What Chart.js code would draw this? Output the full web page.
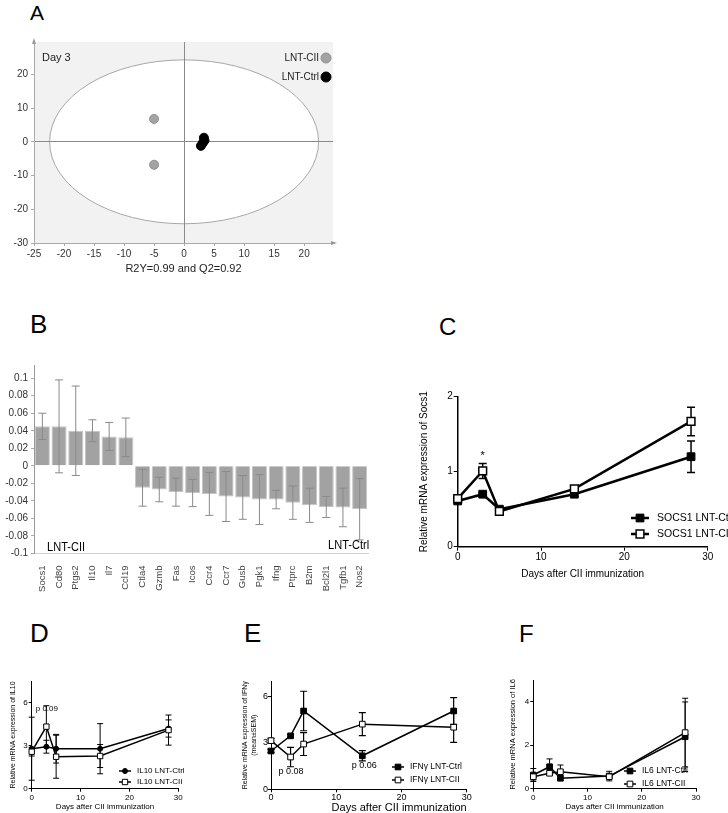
<!DOCTYPE html>
<html>
<head>
<meta charset="utf-8">
<script src="https://cdn.jsdelivr.net/npm/chart.js@4.4.1/dist/chart.umd.min.js"></script>
<style>
  html, body { margin: 0; padding: 0; background: #fff; width: 728px; height: 813px; overflow: hidden; }
  body { position: relative; font-family: 'Liberation Sans', Arial, sans-serif; color: #000; }
  canvas { position: absolute; }
  .letter { position: absolute; line-height: 1; }
  .note { position: absolute; white-space: nowrap; line-height: 14px; transform-origin: left center; }
</style>
</head>
<body>
<div class="letter" style="left:30px;top:2px;font-size:21px">A</div>
<div class="letter" style="left:30px;top:311px;font-size:26px">B</div>
<div class="letter" style="left:439px;top:315px;font-size:24px">C</div>
<div class="letter" style="left:30px;top:620px;font-size:26px">D</div>
<div class="letter" style="left:244px;top:620px;font-size:26px">E</div>
<div class="letter" style="left:519px;top:622px;font-size:24px">F</div>

<canvas id="cA" width="345" height="280" style="left:0;top:0"></canvas>
<canvas id="cB" width="380" height="265" style="left:0;top:340px"></canvas>
<canvas id="cC" width="314" height="204" style="left:414px;top:380px"></canvas>
<canvas id="cD" width="200" height="150" style="left:0;top:665px"></canvas>
<canvas id="cE" width="240" height="150" style="left:240px;top:665px"></canvas>
<canvas id="cF" width="248" height="150" style="left:480px;top:665px"></canvas>

<div class="note" style="left:42px;top:50px;font-size:11px;color:#222">Day 3</div>
<div class="note" style="left:47px;top:540px;font-size:13px;transform:scaleX(0.85)">LNT-CII</div>
<div class="note" style="left:328px;top:538px;font-size:13px;transform:scaleX(0.85)">LNT-Ctrl</div>

<script>
// Panel A - score plot, day 3
const aCIIx = [-5.0, -5.0];
const aCIIy = [6.8, -6.8];
const aCtrlx = [3.3, 3.4, 3.1, 2.8];
const aCtrly = [1.2, 0.4, -0.4, -1.2];
const aEllipse = [22.4, 24.3];
const aXTicks = [-25, -20, -15, -10, -5, 0, 5, 10, 15, 20];
const aYTicks = [-30, -20, -10, 0, 10, 20];

// Panel B - coefficients with confidence intervals
const bGenes = ['Socs1', 'Cd80', 'Ptgs2', 'Il10', 'Il7', 'Ccl19', 'Ctla4', 'Gzmb', 'Fas', 'Icos',
  'Ccr4', 'Ccr7', 'Gusb', 'Pgk1', 'Ifng', 'Ptprc', 'B2m', 'Bcl2l1', 'Tgfb1', 'Nos2'];
const bCoef = [0.045, 0.045, 0.040, 0.040, 0.0335, 0.0325, -0.025, -0.027, -0.030, -0.031,
  -0.032, -0.035, -0.036, -0.0385, -0.0385, -0.042, -0.045, -0.047, -0.0475, -0.0495];
const bCI = [0.015, 0.053, 0.051, 0.0125, 0.016, 0.022, 0.021, 0.014, 0.016, 0.0155,
  0.0245, 0.0285, 0.025, 0.0285, 0.0105, 0.019, 0.0195, 0.012, 0.022, 0.035];
const bYTicks = [-0.1, -0.08, -0.06, -0.04, -0.02, 0, 0.02, 0.04, 0.06, 0.08, 0.1];

// Panels C-F - time course
const days = [0, 3, 5, 14, 28];
const dayTicks = [0, 10, 20, 30];

const cCtrl = [0.61, 0.70, 0.50, 0.70, 1.20];
const cCtrlErr = [0.02, 0.02, 0.03, 0.03, 0.21];
const cCII = [0.64, 1.01, 0.47, 0.77, 1.67];
const cCIIErr = [0.03, 0.10, 0.03, 0.03, 0.19];
const cYTicks = [0, 1, 2];

const dCtrl = [2.79, 2.93, 2.79, 2.79, 4.20];
const dCtrlErr = [2.2, 0.45, 1.0, 1.75, 0.6];
const dCII = [2.58, 4.33, 2.23, 2.28, 4.09];
const dCIIErr = [0.3, 1.46, 1.5, 0.8, 1.05];
const dYTicks = [0, 3, 6];

const eCtrl = [2.48, 3.46, 5.07, 2.17, 5.07];
const eCtrlErr = [0.1, 0.1, 1.28, 0.33, 0.86];
const eCII = [3.15, 2.09, 2.93, 4.22, 4.02];
const eCIIErr = [0.15, 0.63, 0.74, 0.74, 0.98];
const eYTicks = [0, 3, 6];

const fCtrl = [0.63, 1.01, 0.48, 0.58, 2.39];
const fCtrlErr = [0.3, 0.36, 0.1, 0.22, 1.6];
const fCII = [0.55, 0.71, 0.78, 0.55, 2.58];
const fCIIErr = [0.15, 0.1, 0.31, 0.1, 1.58];
const fYTicks = [0, 2, 4];

const FONT = "'Liberation Sans', Arial, sans-serif";
Chart.defaults.font.family = FONT;
Chart.defaults.color = '#000';

function zip(xs, ys) {
  return xs.map((x, i) => ({ x: x, y: ys[i] }));
}

function drawMarker(ctx, style, r, x, y, fill, stroke, bw) {
  ctx.beginPath();
  if (style === 'rect') {
    const h = r * Math.SQRT1_2;
    ctx.rect(x - h, y - h, 2 * h, 2 * h);
  } else {
    ctx.arc(x, y, r, 0, Math.PI * 2);
  }
  ctx.fillStyle = fill;
  ctx.fill();
  ctx.lineWidth = bw;
  ctx.strokeStyle = stroke;
  ctx.stroke();
}

// grey plot background with the white confidence ellipse, plus axis arrows
const ellipsePlugin = {
  id: 'ellipse',
  beforeDraw(chart, args, o) {
    const { ctx, chartArea: a, scales: { x, y } } = chart;
    ctx.save();
    ctx.fillStyle = o.outside;
    ctx.fillRect(a.left, a.top, a.right - a.left, a.bottom - a.top);
    const cx = x.getPixelForValue(0), cy = y.getPixelForValue(0);
    const rx = x.getPixelForValue(o.radii[0]) - cx;
    const ry = cy - y.getPixelForValue(o.radii[1]);
    ctx.beginPath();
    ctx.ellipse(cx, cy, rx, ry, 0, 0, Math.PI * 2);
    ctx.fillStyle = '#fff';
    ctx.fill();
    ctx.strokeStyle = o.stroke;
    ctx.lineWidth = 1;
    ctx.stroke();
    ctx.restore();
  },
  afterDraw(chart) {
    const { ctx, chartArea: a } = chart;
    ctx.save();
    ctx.fillStyle = '#999';
    ctx.beginPath();
    ctx.moveTo(a.left, a.top - 4); ctx.lineTo(a.left - 2, a.top + 2); ctx.lineTo(a.left + 2, a.top + 2);
    ctx.fill();
    ctx.beginPath();
    ctx.moveTo(a.right + 4, a.bottom); ctx.lineTo(a.right - 2, a.bottom - 2); ctx.lineTo(a.right - 2, a.bottom + 2);
    ctx.fill();
    ctx.restore();
  }
};

const dotLegendPlugin = {
  id: 'dotLegend',
  afterDraw(chart, args, o) {
    const ctx = chart.ctx;
    ctx.save();
    ctx.font = o.size + 'px ' + FONT;
    ctx.textAlign = 'right';
    ctx.textBaseline = 'middle';
    chart.data.datasets.forEach((ds, i) => {
      const y = o.y + i * o.gap;
      ctx.fillStyle = '#222';
      ctx.fillText(ds.label, o.x - o.r - 2, y);
      drawMarker(ctx, 'circle', o.r, o.x, y, ds.backgroundColor, ds.borderColor, 1);
    });
    ctx.restore();
  }
};

function drawErrorBars(chart, o) {
  const { ctx, scales: { y } } = chart;
  ctx.save();
  ctx.strokeStyle = o.color;
  ctx.lineWidth = o.width;
  chart.data.datasets.forEach((ds, di) => {
    if (!ds.errors) return;
    const meta = chart.getDatasetMeta(di);
    meta.data.forEach((el, i) => {
      const raw = ds.data[i];
      const v = typeof raw === 'object' ? raw.y : raw;
      const e = ds.errors[i];
      const px = el.x;
      const hi = y.getPixelForValue(v + e), lo = y.getPixelForValue(v - e);
      ctx.beginPath();
      ctx.moveTo(px, hi); ctx.lineTo(px, lo);
      ctx.moveTo(px - o.cap, hi); ctx.lineTo(px + o.cap, hi);
      ctx.moveTo(px - o.cap, lo); ctx.lineTo(px + o.cap, lo);
      ctx.stroke();
    });
  });
  ctx.restore();
}

const errorBarsPlugin = {
  id: 'errorBars',
  beforeDatasetsDraw(chart, args, o) { if (!o.above) drawErrorBars(chart, o); },
  afterDatasetsDraw(chart, args, o) { if (o.above) drawErrorBars(chart, o); }
};

const lineLegendPlugin = {
  id: 'lineLegend',
  afterDraw(chart, args, o) {
    const ctx = chart.ctx;
    ctx.save();
    ctx.font = o.size + 'px ' + FONT;
    ctx.textAlign = 'left';
    ctx.textBaseline = 'middle';
    chart.data.datasets.forEach((ds, i) => {
      const y = o.y + i * o.gap;
      ctx.strokeStyle = '#000';
      ctx.lineWidth = ds.borderWidth;
      ctx.beginPath();
      ctx.moveTo(o.x - o.len / 2, y);
      ctx.lineTo(o.x + o.len / 2, y);
      ctx.stroke();
      drawMarker(ctx, ds.pointStyle, ds.pointRadius, o.x, y, ds.backgroundColor, ds.borderColor, ds.pointBorderWidth);
      ctx.fillStyle = '#000';
      ctx.fillText(ds.label, o.tx, y);
    });
    ctx.restore();
  }
};

// small text placed at data coordinates (p values, asterisk)
const notesPlugin = {
  id: 'notes',
  afterDraw(chart, args, o) {
    const { ctx, scales: { x, y } } = chart;
    ctx.save();
    ctx.font = o.size + 'px ' + FONT;
    ctx.textAlign = 'center';
    ctx.textBaseline = 'middle';
    ctx.fillStyle = '#000';
    o.items.forEach(n => ctx.fillText(n.text, x.getPixelForValue(n.x), y.getPixelForValue(n.y)));
    ctx.restore();
  }
};

// ---------- A
new Chart(document.getElementById('cA'), {
  type: 'scatter',
  data: {
    datasets: [
      { label: 'LNT-CII', data: zip(aCIIx, aCIIy), backgroundColor: '#a3a3a3', borderColor: '#909090', borderWidth: 1, pointRadius: 4.5 },
      { label: 'LNT-Ctrl', data: zip(aCtrlx, aCtrly), backgroundColor: '#000', borderColor: '#000', borderWidth: 1, pointRadius: 4.5 }
    ]
  },
  options: {
    responsive: false, animation: false, events: [],
    layout: { padding: { top: 42, right: 12, left: 0, bottom: 0 } },
    plugins: {
      legend: { display: false }, tooltip: { enabled: false },
      ellipse: { radii: aEllipse, outside: '#f2f2f2', stroke: '#a8a8a8' },
      dotLegend: { x: 326, y: 58, gap: 19, r: 5, size: 10 }
    },
    scales: {
      x: {
        type: 'linear', min: -25, max: 24.8,
        afterBuildTicks: s => { s.ticks = aXTicks.map(v => ({ value: v })); },
        afterFit: s => { s.height = 37; },
        grid: { color: c => (c.tick && c.tick.value === 0 ? '#8a8a8a' : 'rgba(0,0,0,0)'), tickColor: '#aaa', tickLength: 3 },
        border: { color: '#aaa' },
        ticks: { color: '#333', font: { size: 10 }, padding: 2, maxRotation: 0 },
        title: { display: true, text: 'R2Y=0.99 and Q2=0.92', color: '#222', font: { size: 11 }, padding: { top: 0, bottom: 4 } }
      },
      y: {
        min: -30, max: 29.6,
        afterBuildTicks: s => { s.ticks = aYTicks.map(v => ({ value: v })); },
        afterFit: s => { s.width = 34; },
        grid: { color: c => (c.tick && c.tick.value === 0 ? '#8a8a8a' : 'rgba(0,0,0,0)'), tickColor: '#aaa', tickLength: 3 },
        border: { color: '#aaa' },
        ticks: { color: '#333', font: { size: 10 }, padding: 3 }
      }
    }
  },
  plugins: [ellipsePlugin, dotLegendPlugin]
});

// ---------- B
new Chart(document.getElementById('cB'), {
  type: 'bar',
  data: {
    labels: bGenes,
    datasets: [{
      data: bCoef, errors: bCI,
      backgroundColor: '#a2a2a2', borderColor: '#c4c4c4', borderWidth: 1,
      barPercentage: 0.9, categoryPercentage: 1
    }]
  },
  options: {
    responsive: false, animation: false, events: [],
    layout: { padding: { top: 25, right: 12, left: 0, bottom: 0 } },
    plugins: {
      legend: { display: false }, tooltip: { enabled: false },
      errorBars: { color: '#8a8a8a', width: 1, cap: 4, above: true }
    },
    scales: {
      x: {
        afterFit: s => { s.height = 51.5; },
        grid: { display: false },
        border: { display: true, color: '#d0d0d0' },
        ticks: { autoSkip: false, minRotation: 90, maxRotation: 90, color: '#444', font: { size: 9.5 }, padding: 4 }
      },
      y: {
        min: -0.1, max: 0.115,
        afterBuildTicks: s => { s.ticks = bYTicks.map(v => ({ value: v })); },
        afterFit: s => { s.width = 34; },
        grid: { drawOnChartArea: false, tickLength: 3, color: '#aaa' },
        border: { color: '#999' },
        ticks: { color: '#333', font: { size: 10 }, padding: 3, callback: v => String(v) }
      }
    }
  },
  plugins: [errorBarsPlugin]
});

// ---------- C-F
function linePanel(id, p) {
  return new Chart(document.getElementById(id), {
    type: 'line',
    data: {
      datasets: [
        { label: p.names[0], data: zip(days, p.ctrl), errors: p.ctrlErr, order: 2,
          pointStyle: p.ctrlStyle, pointRadius: p.ctrlR, pointBorderWidth: 1,
          backgroundColor: '#000', borderColor: '#000', borderWidth: p.lw, clip: false },
        { label: p.names[1], data: zip(days, p.cii), errors: p.ciiErr, order: 1,
          pointStyle: 'rect', pointRadius: p.r, pointBorderWidth: p.pbw,
          backgroundColor: '#fff', borderColor: '#000', borderWidth: p.lw, clip: false }
      ]
    },
    options: {
      responsive: false, animation: false, events: [],
      layout: { padding: { top: p.pad[0], right: p.pad[1], bottom: 0, left: 0 } },
      plugins: {
        legend: { display: false }, tooltip: { enabled: false },
        errorBars: { color: '#000', width: p.ebw, cap: p.cap, above: false },
        lineLegend: p.legend,
        notes: { items: p.notes, size: p.noteSize }
      },
      scales: {
        x: {
          type: 'linear', min: 0, max: 30,
          afterBuildTicks: s => { s.ticks = dayTicks.map(v => ({ value: v })); },
          afterFit: s => { s.height = p.xh; },
          grid: { drawOnChartArea: false, tickLength: p.tl, color: '#000', tickColor: '#000' },
          border: { color: '#000', width: p.aw },
          ticks: { font: { size: p.tick }, color: '#000', padding: p.tp, maxRotation: 0 },
          title: { display: true, text: 'Days after CII immunization', align: p.xAlign, font: { size: p.xt }, color: '#000', padding: { top: 0, bottom: p.xtb } }
        },
        y: {
          min: 0, max: p.ymax,
          afterBuildTicks: s => { s.ticks = p.yTicks.map(v => ({ value: v })); },
          afterFit: s => { s.width = p.yw; },
          grid: { drawOnChartArea: false, tickLength: p.tl, color: '#000', tickColor: '#000' },
          border: { color: '#000', width: p.aw },
          ticks: { font: { size: p.tick }, color: '#000', padding: p.tp },
          title: { display: true, text: p.ytitle, font: { size: p.yt }, color: '#000', padding: { top: p.ytp, bottom: 0 } }
        }
      }
    },
    plugins: [errorBarsPlugin, lineLegendPlugin, notesPlugin]
  });
}

linePanel('cC', {
  names: ['SOCS1 LNT-Ctrl', 'SOCS1 LNT-CII'],
  ctrl: cCtrl, ctrlErr: cCtrlErr, cii: cCII, ciiErr: cCIIErr,
  ctrlStyle: 'rect', ctrlR: 5.5, r: 5.5, pbw: 1.5, lw: 2.5, ebw: 1.5, cap: 4,
  pad: [16.7, 20.3], xh: 37.3, yw: 43.7, ymax: 2, yTicks: cYTicks,
  tl: 4, tp: 1, tick: 10, aw: 1.5, xt: 10, xtb: 4, xAlign: 'center',
  ytitle: 'Relative mRNA expression of Socs1', yt: 10, ytp: 4,
  legend: { x: 226, y: 138, gap: 16, len: 18, tx: 243, size: 10.5 },
  notes: [{ x: 3, y: 1.21, text: '*' }], noteSize: 11
});

linePanel('cD', {
  names: ['IL10 LNT-Ctrl', 'IL10 LNT-CII'],
  ctrl: dCtrl, ctrlErr: dCtrlErr, cii: dCII, ciiErr: dCIIErr,
  ctrlStyle: 'circle', ctrlR: 2.5, r: 3.8, pbw: 1, lw: 1.5, ebw: 1, cap: 3,
  pad: [16.2, 21.7], xh: 26.3, yw: 31.7, ymax: 7.5, yTicks: dYTicks,
  tl: 3, tp: 1, tick: 8, aw: 1, xt: 8, xtb: 3, xAlign: 'center',
  ytitle: 'Relative mRNA expression of IL10', yt: 7, ytp: 9,
  legend: { x: 125, y: 106, gap: 11, len: 12, tx: 137, size: 8 },
  notes: [{ x: 3.1, y: 5.56, text: 'p 0.09' }], noteSize: 8
});

linePanel('cE', {
  names: ['IFNγ LNT-Ctrl', 'IFNγ LNT-CII'],
  ctrl: eCtrl, ctrlErr: eCtrlErr, cii: eCII, ciiErr: eCIIErr,
  ctrlStyle: 'rect', ctrlR: 4, r: 4, pbw: 1, lw: 1.5, ebw: 1.2, cap: 3.5,
  pad: [16.2, 13.3], xh: 25.7, yw: 31, ymax: 7, yTicks: eYTicks,
  tl: 3, tp: 0, tick: 9, aw: 1, xt: 11, xtb: 0, xAlign: 'end',
  ytitle: ['Relative mRNA expression of IFNγ', '(mean±SEM)'], yt: 7, ytp: 1,
  legend: { x: 158, y: 102, gap: 13, len: 12, tx: 170, size: 8.5 },
  notes: [{ x: 3.07, y: 1.12, text: 'p 0.08' }, { x: 14.3, y: 1.51, text: 'p 0.06' }], noteSize: 9
});

linePanel('cF', {
  names: ['IL6 LNT-Ctrl', 'IL6 LNT-CII'],
  ctrl: fCtrl, ctrlErr: fCtrlErr, cii: fCII, ciiErr: fCIIErr,
  ctrlStyle: 'rect', ctrlR: 4, r: 4, pbw: 1, lw: 1.5, ebw: 1, cap: 3,
  pad: [15, 32], xh: 26.3, yw: 53.3, ymax: 5, yTicks: fYTicks,
  tl: 3, tp: 1, tick: 8, aw: 1, xt: 8, xtb: 3, xAlign: 'center',
  ytitle: 'Relative mRNA expression of IL6', yt: 7.5, ytp: 28.5,
  legend: { x: 150, y: 106, gap: 13, len: 12, tx: 162, size: 8.5 },
  notes: [], noteSize: 8
});
</script>
</body>
</html>
